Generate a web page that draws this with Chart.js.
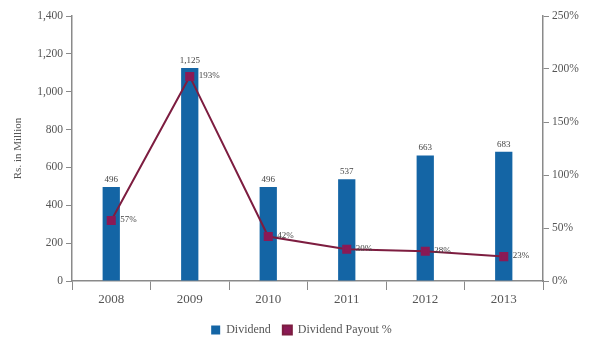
<!DOCTYPE html>
<html>
<head>
<meta charset="utf-8">
<script src="https://cdn.jsdelivr.net/npm/chart.js@4/dist/chart.umd.min.js"></script>
<style>
  html, body { margin: 0; padding: 0; background: #fff; }
  #wrap { width: 591px; height: 350px; }
</style>
</head>
<body>
<div id="wrap"><canvas id="divChart" width="591" height="350"></canvas></div>
<script>
// Dividend and payout ratio, 2008-2013
var years = ['2008', '2009', '2010', '2011', '2012', '2013'];
var dividend = [496, 1125, 496, 537, 663, 683];       // Rs. in Million
var payout = [57, 193, 42, 30, 28, 23];               // percent

var FONT = '"Liberation Serif", "DejaVu Serif", serif';
var TEXT = '#555';
var AXIS = '#8a8a8a';

// writes the value labels next to bars and points
var valueLabels = {
    id: 'valueLabels',
    afterDatasetsDraw: function(chart) {
        var ctx = chart.ctx;
        ctx.save();
        ctx.font = '9px ' + FONT;
        ctx.fillStyle = '#444';

        var bars = chart.getDatasetMeta(0).data;
        ctx.textAlign = 'center';
        ctx.textBaseline = 'bottom';
        bars.forEach(function(bar, i) {
            ctx.fillText(dividend[i].toLocaleString('en-US'), bar.x, bar.y - 3);
        });

        var pts = chart.getDatasetMeta(1).data;
        ctx.textAlign = 'left';
        ctx.textBaseline = 'middle';
        pts.forEach(function(p, i) {
            ctx.fillText(payout[i] + '%', p.x + 9, p.y - 1);
        });
        ctx.restore();
    }
};

function createChart() {
    var ctx = document.getElementById('divChart').getContext('2d');

    new Chart(ctx, {
        type: 'bar',
        data: {
            labels: years,
            datasets: [{
                type: 'bar',
                label: 'Dividend',
                data: dividend,
                yAxisID: 'y',
                backgroundColor: '#1465a5',
                categoryPercentage: 1,
                barPercentage: 0.22,
                order: 1
            }, {
                type: 'line',
                label: 'Dividend Payout %',
                data: payout,
                yAxisID: 'y1',
                borderColor: '#7d1d40',
                backgroundColor: '#8a1a56',
                borderWidth: 2,
                tension: 0,
                pointStyle: 'rect',
                pointRadius: 5,
                pointBackgroundColor: '#8a1a56',
                pointBorderColor: '#8a1a56',
                order: 0
            }]
        },
        options: {
            responsive: false,
            animation: false,
            layout: { padding: { top: 16, left: 12, right: 0, bottom: 4 } },
            plugins: {
                tooltip: { enabled: false },
                legend: {
                    position: 'bottom',
                    labels: {
                        font: { family: FONT, size: 12 },
                        color: TEXT,
                        boxWidth: 9,
                        boxHeight: 9,
                        padding: 12,
                        sort: function(a, b) { return a.datasetIndex - b.datasetIndex; }
                    }
                }
            },
            scales: {
                x: {
                    grid: { display: true, drawOnChartArea: false, drawTicks: true, tickLength: 9, color: AXIS, offset: true },
                    border: { display: true, color: AXIS, width: 1.5 },
                    ticks: { font: { family: FONT, size: 13 }, color: TEXT, padding: 2 },
                    afterFit: function(scale) { scale.height = 31; }
                },
                y: {
                    position: 'left',
                    min: 0,
                    max: 1400,
                    ticks: {
                        stepSize: 200,
                        font: { family: FONT, size: 11.5 },
                        color: TEXT,
                        padding: 3,
                        callback: function(v) { return v.toLocaleString('en-US'); }
                    },
                    grid: { display: true, drawOnChartArea: false, drawTicks: true, tickLength: 6, color: AXIS },
                    border: { display: true, color: AXIS, width: 1.5 },
                    title: {
                        display: true,
                        text: 'Rs. in Million',
                        font: { family: FONT, size: 11 },
                        color: TEXT,
                        padding: { top: 0, bottom: 0 }
                    },
                    afterFit: function(scale) { scale.width = 60; }
                },
                y1: {
                    position: 'right',
                    min: 0,
                    max: 250,
                    ticks: {
                        stepSize: 50,
                        font: { family: FONT, size: 11.5 },
                        color: TEXT,
                        padding: 3,
                        callback: function(v) { return v + '%'; }
                    },
                    grid: { display: true, drawOnChartArea: false, drawTicks: true, tickLength: 6, color: AXIS },
                    border: { display: true, color: AXIS, width: 1.5 },
                    afterFit: function(scale) { scale.width = 48; }
                }
            }
        },
        plugins: [valueLabels]
    });
}

document.addEventListener('DOMContentLoaded', createChart);
</script>
</body>
</html>
